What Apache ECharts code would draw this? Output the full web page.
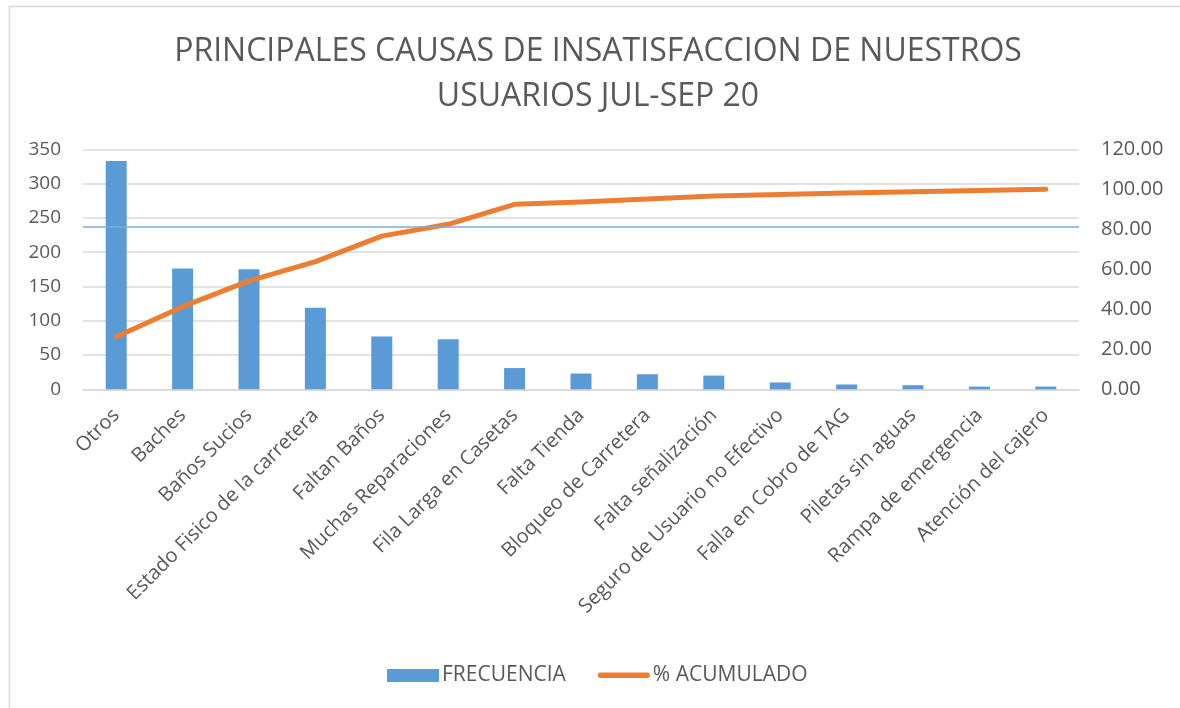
<!DOCTYPE html>
<html>
<head>
<meta charset="utf-8">
<script src="https://cdn.jsdelivr.net/npm/echarts@6/dist/echarts.min.js"></script>
<style>
html,body{margin:0;padding:0;background:#fff;}
#chart{width:1180px;height:708px;}
</style>
</head>
<body>
<div id="chart"></div>
<script>
const categories = ['Otros','Baches','Baños Sucios','Estado Fisico de la carretera','Faltan Baños','Muchas Reparaciones','Fila Larga en Casetas','Falta Tienda','Bloqueo de Carretera','Falta señalización','Seguro de Usuario no Efectivo','Falla en Cobro de TAG','Piletas sin aguas','Rampa de emergencia','Atención del cajero'];
const frecuencia = [333,176,175,119,77,73,31,23,22,20,10,7,6,4,4];
const acumulado = [26.3,41.3,54.2,63.8,76.6,82.5,92.5,93.6,95.2,96.6,97.4,98.1,98.8,99.4,100.0];
const leftTicks = [0,50,100,150,200,250,300,350];
const rightTicks = [0,20,40,60,80,100,120];
const paretoLine = 81.2;

const FONT = 'Open Sans';
const GREY = '#595959';
const lineIcon = 'path://M0,0 L0.05,0 L0,0.05 Z M0,13 L0.05,13 L0,12.95 Z M2.5,3.5 L52.5,3.5 A2.75,2.75 0 0 1 52.5,9 L2.5,9 A2.75,2.75 0 0 1 2.5,3.5 Z';
const chart = echarts.init(document.getElementById('chart'));
chart.setOption({
  backgroundColor: '#fff',
  animation: false,
  textStyle: {fontFamily: FONT, color: GREY},
  graphic: [{
    type: 'rect', left: 7, top: 4, z: -1,
    shape: {width: 1200, height: 800},
    style: {fill: 'none', stroke: '#d9d9d9', lineWidth: 1.5}
  }],
  title: {
    text: 'PRINCIPALES CAUSAS DE INSATISFACCION DE NUESTROS\nUSUARIOS JUL-SEP 20',
    left: 593, top: 24, textAlign: 'center',
    textStyle: {fontFamily: FONT, fontSize: 32, fontWeight: 'normal', color: GREY, lineHeight: 45}
  },
  legend: {
    top: 660, left: 382, itemGap: 32,
    itemWidth: 52, itemHeight: 13,
    symbolKeepAspect: false,
    textStyle: {fontFamily: FONT, fontSize: 21, color: GREY, padding: [0,0,0,-2]},
    data: [
      {name: 'FRECUENCIA', icon: 'rect'},
      {name: '% ACUMULADO', icon: lineIcon, itemStyle: {color: '#ed7d31'}}
    ]
  },
  grid: {left: 83, right: 101, top: 149.3, bottom: 318.7, containLabel: false},
  xAxis: {
    type: 'category', data: categories,
    axisLine: {show: true, lineStyle: {color: '#d9d9d9', width: 1.5}},
    axisTick: {show: false},
    axisLabel: {rotate: 45, interval: 0, fontFamily: FONT, fontSize: 20, color: GREY, margin: 23}
  },
  yAxis: [{
    type: 'value', min: leftTicks[0], max: leftTicks[leftTicks.length-1], interval: 50,
    axisLine: {show: false}, axisTick: {show: false},
    axisLabel: {fontFamily: FONT, fontSize: 19, color: GREY, margin: 22},
    splitLine: {lineStyle: {color: '#d9d9d9', width: 1.5}}
  }, {
    type: 'value', min: rightTicks[0], max: rightTicks[rightTicks.length-1], interval: 20,
    axisLine: {show: false}, axisTick: {show: false},
    axisLabel: {fontFamily: FONT, fontSize: 20, color: GREY, margin: 22, formatter: v => v.toFixed(2)},
    splitLine: {show: false}
  }],
  series: [{
    name: 'FRECUENCIA', type: 'bar', data: frecuencia,
    barWidth: 21,
    itemStyle: {color: '#5b9bd5'}
  }, {
    name: '% ACUMULADO', type: 'line', yAxisIndex: 1, data: acumulado,
    showSymbol: false, symbol: 'none',
    lineStyle: {color: '#ed7d31', width: 5, cap: 'round', join: 'round'},
    itemStyle: {color: '#ed7d31'},
    markLine: {
      silent: true, symbol: 'none', label: {show: false},
      lineStyle: {color: '#7eabdb', width: 1.5, type: 'solid'},
      data: [{yAxis: paretoLine}]
    }
  }]
});
</script>
</body>
</html>
